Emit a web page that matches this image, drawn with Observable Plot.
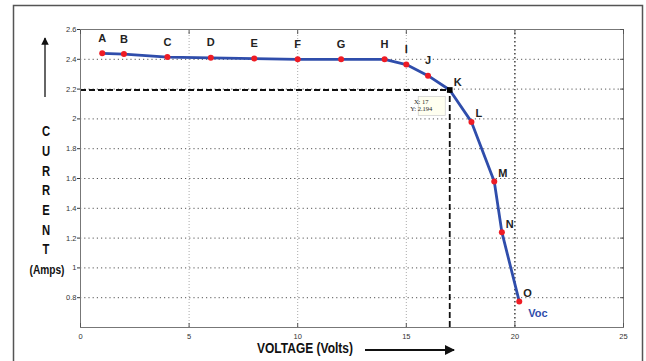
<!DOCTYPE html>
<html>
<head>
<meta charset="utf-8">
<script src="https://cdn.jsdelivr.net/npm/d3@7"></script>
<script src="https://cdn.jsdelivr.net/npm/@observablehq/plot@0.6"></script>
<style>
  body { margin: 0; background: #fff; }
  #chart { position: relative; width: 646px; height: 361px; overflow: hidden; }
</style>
</head>
<body>
<div id="chart"></div>
<script>
// ---- data ----
const pointLabels = ["A","B","C","D","E","F","G","H","I","J","K","L","M","N","O"];
const voltage = [1, 2, 4, 6, 8, 10, 12, 14, 15, 16, 17, 18, 19.05, 19.4, 20.2];
const current = [2.44, 2.435, 2.415, 2.41, 2.405, 2.40, 2.40, 2.40, 2.365, 2.29, 2.194, 1.98, 1.58, 1.24, 0.775];
const xTicks = [0, 5, 10, 15, 20, 25];
const yTicks = [0.8, 1, 1.2, 1.4, 1.6, 1.8, 2, 2.2, 2.4, 2.6];
const mppLabel = "K";
const vocVoltage = 20;
const vocText = "Voc";
const yTitleLetters = ["C","U","R","R","E","N","T"];
const yTitleUnit = "(Amps)";
const xTitle = "VOLTAGE (Volts)";

const data = pointLabels.map((label, i) => ({label, v: voltage[i], c: current[i], i}));
const mpp = data.filter(d => d.label === mppLabel);
const aboveLabels = data.filter(d => d.i <= 9);
const rightLabels = data.filter(d => d.i > 9);

const font = "'Liberation Sans', Arial, sans-serif";
const blue = "#2f4dab";
const red = "#ee1c25";

const plot = Plot.plot({
  width: 646,
  height: 361,
  marginLeft: 80,
  marginRight: 23,
  marginTop: 29,
  marginBottom: 34,
  style: {fontFamily: font, fontSize: "7.5px", background: "white", color: "#333", overflow: "visible"},
  x: {domain: [0, 25], label: null},
  y: {domain: [0.6, 2.6], label: null},
  marks: [
    Plot.gridY(yTicks.slice(0, -1), {stroke: "#555", strokeOpacity: 1, strokeDasharray: "1.2,3"}),
    Plot.gridX(xTicks.filter(t => t > 0 && t < vocVoltage), {stroke: "#aaa", strokeOpacity: 1, strokeDasharray: "1,2"}),
    Plot.ruleX([vocVoltage], {stroke: "#111", strokeWidth: 1.2, strokeDasharray: "1.5,2.5"}),
    Plot.ruleY(mpp, {y: "c", x1: 0, x2: "v", stroke: "#111", strokeWidth: 1.8, strokeDasharray: "6,3"}),
    Plot.ruleX(mpp, {x: "v", y1: 0.6, y2: "c", stroke: "#111", strokeWidth: 1.8, strokeDasharray: "6,3"}),
    Plot.frame({stroke: "#777"}),
    Plot.axisY(yTicks, {anchor: "left", tickSize: 3, tickPadding: 1, tickFormat: d3.format("~g"), fontSize: 7.5, fill: "#333", stroke: "#333"}),
    Plot.axisY(yTicks, {anchor: "right", tickSize: -4, tickFormat: () => "", stroke: "#555"}),
    Plot.axisX(xTicks, {anchor: "bottom", tickSize: -4, tickPadding: 10, tickFormat: d3.format("d"), fontSize: 7.5, fill: "#333", stroke: "#555"}),
    Plot.axisX(xTicks, {anchor: "top", tickSize: -4, tickFormat: () => "", stroke: "#555"}),
    Plot.line(data, {x: "v", y: "c", stroke: blue, strokeWidth: 2.8}),
    Plot.dot(data.filter(d => d.label !== mppLabel), {x: "v", y: "c", fill: red, r: 3}),
    Plot.dot(mpp, {x: "v", y: "c", fill: "#000", symbol: "square", r: 3.2}),
    Plot.text(aboveLabels, {x: "v", y: "c", text: "label", dy: -15, fontSize: 11, fontWeight: "bold", fill: "#222", fontFamily: font}),
    Plot.text(rightLabels, {x: "v", y: "c", text: "label", dx: 4, dy: -8, textAnchor: "start", fontSize: 11, fontWeight: "bold", fill: "#222", fontFamily: font}),
    Plot.text([vocText], {x: () => vocVoltage, frameAnchor: "bottom", text: d => d, dx: 23, dy: -11, fill: blue, fontSize: 11, fontWeight: "bold", fontFamily: font})
  ]
});

document.getElementById("chart").appendChild(plot);

const svg = d3.select(plot);
const sx = plot.scale("x"), sy = plot.scale("y");

// outer frame of the figure
svg.insert("rect", ":first-child")
  .attr("x", 13.5).attr("y", 5.5).attr("width", 629).attr("height", 380)
  .attr("fill", "none").attr("stroke", "#555").attr("stroke-width", 1.5);

// condensed bold title text helper
function title(str, x, y, size, sxScale, length) {
  const t = svg.append("text")
    .attr("transform", `translate(${x},${y}) scale(${sxScale},1)`)
    .attr("text-anchor", "middle").attr("dy", "0.35em")
    .attr("font-family", font).attr("font-weight", "bold").attr("font-size", size)
    .attr("fill", "#111").text(str);
  if (length) t.attr("textLength", length).attr("lengthAdjust", "spacingAndGlyphs");
  return t;
}

// vertical y title: stacked letters, then unit
yTitleLetters.forEach((ch, i) => title(ch, 46, 131 + i * 19.7, 15, 0.75));
title(yTitleUnit, 47, 270, 12.5, 1, 35).attr("text-anchor", "middle");
// x title
title(xTitle, 305, 348, 15, 1, 96);

// arrows
const defs = svg.append("defs");
defs.append("marker").attr("id", "ah").attr("viewBox", "0 0 10 10")
  .attr("refX", 9).attr("refY", 5).attr("markerWidth", 5).attr("markerHeight", 5)
  .attr("orient", "auto-start-reverse")
  .append("path").attr("d", "M0,0 L10,5 L0,10 z").attr("fill", "#111");
svg.append("line").attr("x1", 45).attr("y1", 97).attr("x2", 45).attr("y2", 38)
  .attr("stroke", "#333").attr("stroke-width", 1.5).attr("marker-end", "url(#ah)");
svg.append("line").attr("x1", 365).attr("y1", 350).attr("x2", 454).attr("y2", 350)
  .attr("stroke", "#111").attr("stroke-width", 2).attr("marker-end", "url(#ah)");

// data tip at the maximum power point K
const k = mpp[0];
const kx = sx.apply(k.v), ky = sy.apply(k.c);
const tip = svg.append("g").attr("transform", `translate(${kx - 31},${ky + 7})`);
tip.append("rect").attr("width", 27).attr("height", 19)
  .attr("fill", "#fffff0").attr("stroke", "#ccc").attr("stroke-width", 0.7);
tip.append("text").attr("x", 3).attr("y", 7.5)
  .attr("font-family", "'Liberation Serif', serif").attr("font-size", 6.5).attr("fill", "#222")
  .text(`X: ${k.v}`);
tip.append("text").attr("x", 3).attr("y", 15)
  .attr("font-family", "'Liberation Serif', serif").attr("font-size", 6.5).attr("fill", "#222")
  .text(`Y: ${k.c}`);
</script>
</body>
</html>
